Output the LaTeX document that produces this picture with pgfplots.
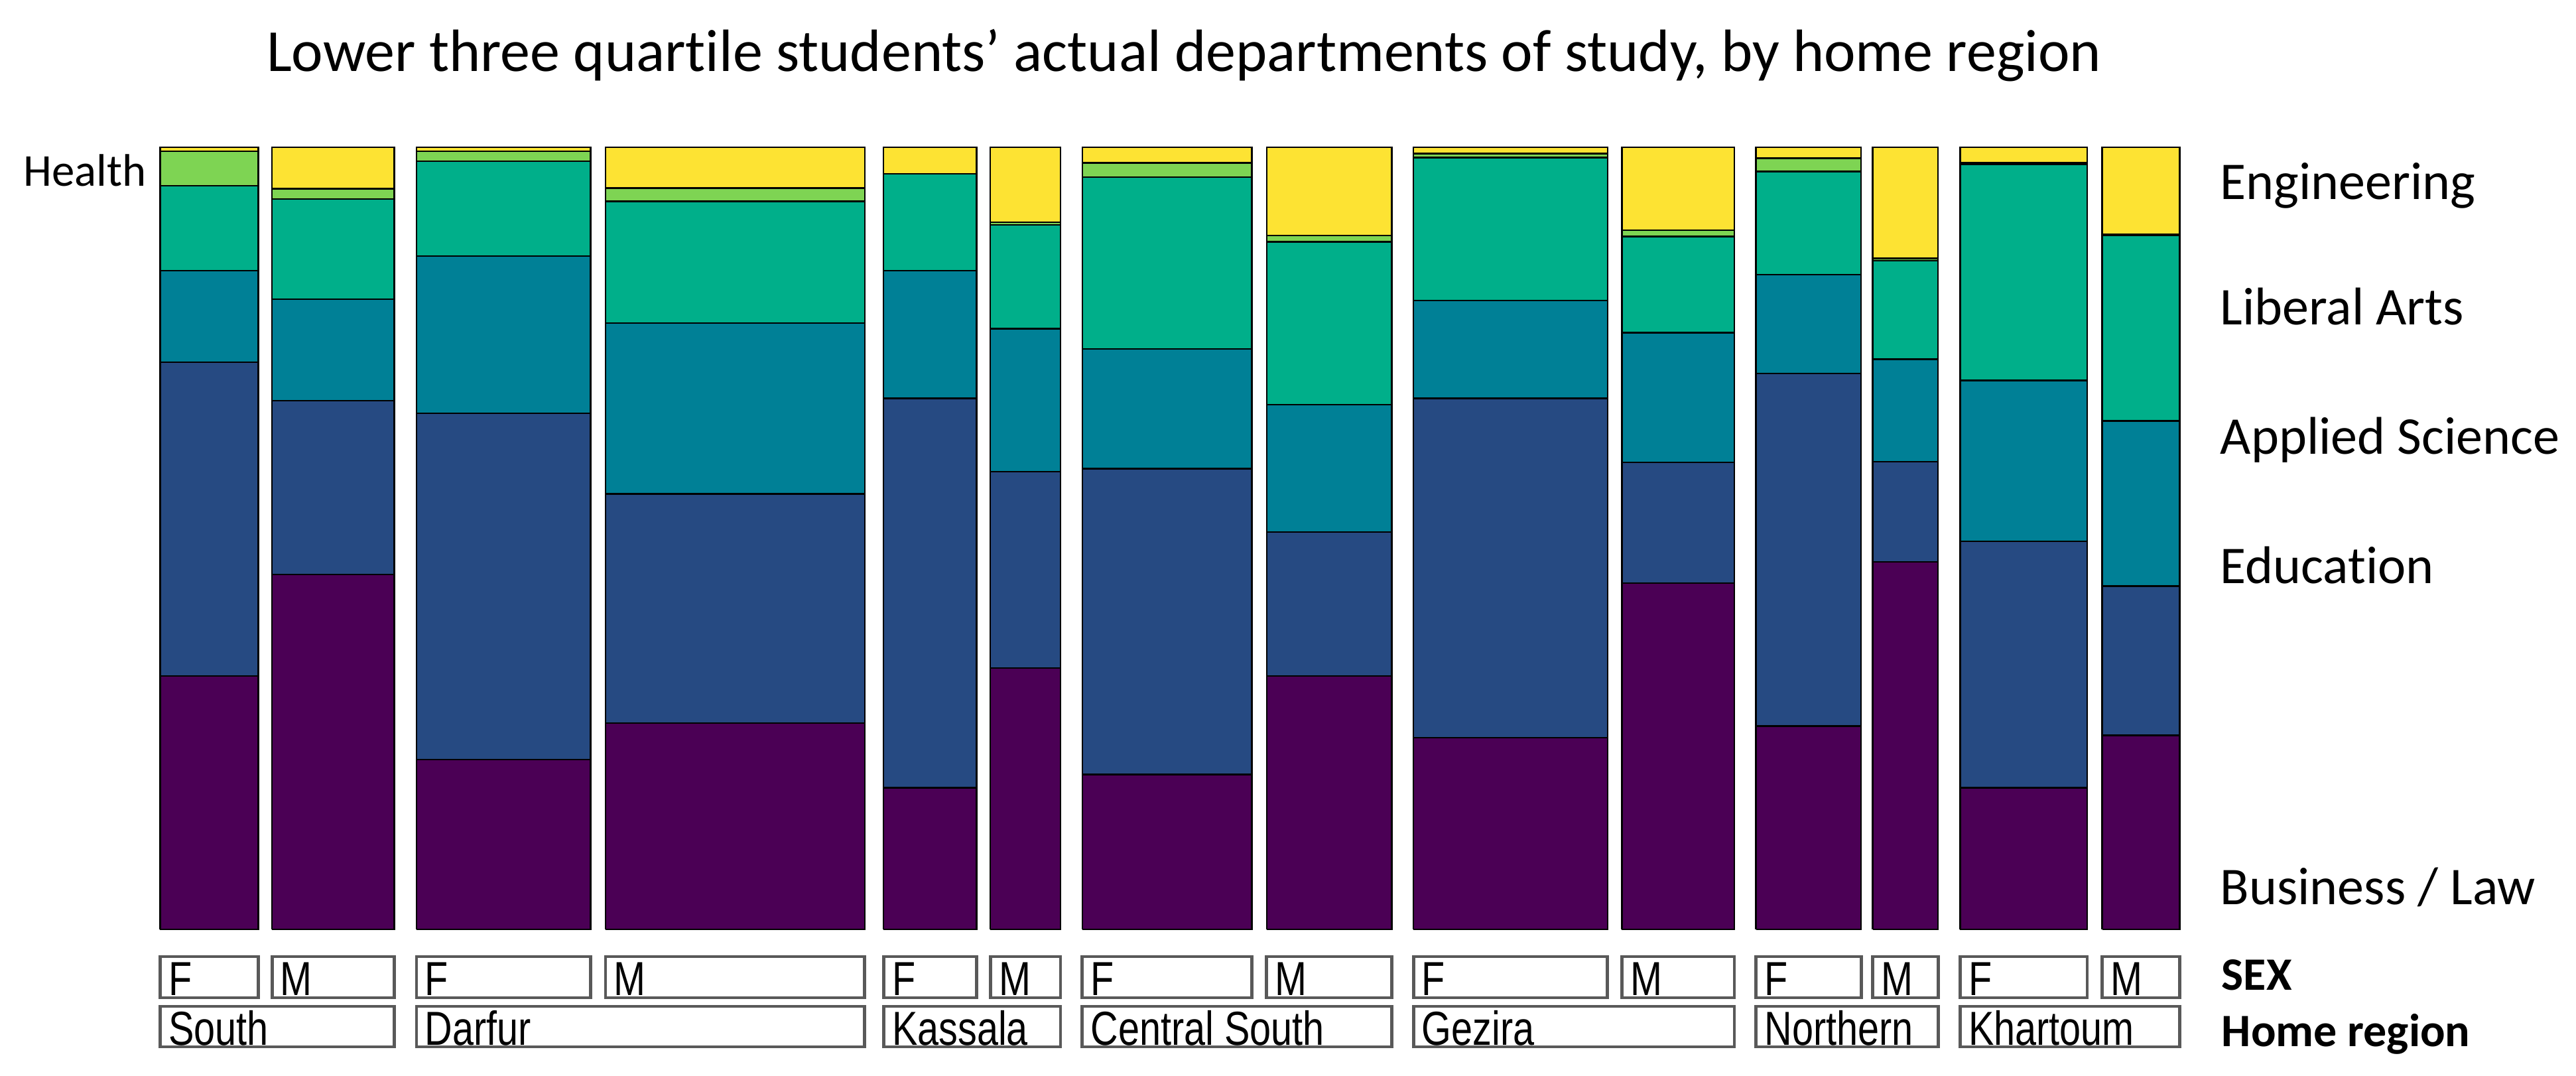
\documentclass[border=0pt]{standalone}
\usepackage{pgfplots}
\pgfplotsset{compat=1.18}
\usepackage{fontspec}
\setmainfont{Carlito}[Ligatures=NoCommon]
\newfontfamily\boxfont[FakeStretch=0.8]{Liberation Sans}
\definecolor{cB}{HTML}{4B0055}
\definecolor{cE}{HTML}{264A82}
\definecolor{cA}{HTML}{008096}
\definecolor{cL}{HTML}{00AF8A}
\definecolor{cH}{HTML}{7ED453}
\definecolor{cY}{HTML}{FDE333}
\tikzset{
  boxl/.style={draw=black!65, line width=1.2pt, fill=white},
  sx/.style={font=\boxfont\fontsize{18}{20}\selectfont, anchor=base west, inner sep=0pt},
  lab/.style={font=\fontsize{20}{24}\selectfont, anchor=base west, inner sep=0pt},
  blab/.style={font=\bfseries\fontsize{17.5}{21}\selectfont, anchor=base west, inner sep=0pt},
}
\begin{document}
\begin{tikzpicture}
\useasboundingbox (0,0) rectangle (971pt,405.25pt);
\begin{axis}[
  at={(0,0)}, anchor=south west,
  scale only axis, width=971pt, height=405.25pt,
  xmin=0, xmax=3884, ymin=-18.66, ymax=118.83,
  hide axis, clip=false,
  unbounded coords=jump,
  every axis plot/.append style={draw=black, line width=0.6pt, line join=miter},
]
% Business / Law
\addplot[fill=cB] coordinates {
(241.3,0) (389.4,0) (389.4,32.4) (241.3,32.4) (241.3,0) (nan,nan)
(410.1,0) (594.3,0) (594.3,45.4) (410.1,45.4) (410.1,0) (nan,nan)
(627.9,0) (890.5,0) (890.5,21.7) (627.9,21.7) (627.9,0) (nan,nan)
(912.9,0) (1303.8,0) (1303.8,26.4) (912.9,26.4) (912.9,0) (nan,nan)
(1332.2,0) (1472.5,0) (1472.5,18.1) (1332.2,18.1) (1332.2,0) (nan,nan)
(1493.2,0) (1599.0,0) (1599.0,33.4) (1493.2,33.4) (1493.2,0) (nan,nan)
(1631.7,0) (1887.4,0) (1887.4,19.8) (1631.7,19.8) (1631.7,0) (nan,nan)
(1909.8,0) (2098.4,0) (2098.4,32.4) (1909.8,32.4) (1909.8,0) (nan,nan)
(2131.1,0) (2423.8,0) (2423.8,24.5) (2131.1,24.5) (2131.1,0) (nan,nan)
(2445.3,0) (2614.9,0) (2614.9,44.3) (2445.3,44.3) (2445.3,0) (nan,nan)
(2647.6,0) (2806.1,0) (2806.1,26.0) (2647.6,26.0) (2647.6,0) (nan,nan)
(2823.5,0) (2922.1,0) (2922.1,47.0) (2823.5,47.0) (2823.5,0) (nan,nan)
(2955.4,0) (3147.0,0) (3147.0,18.1) (2955.4,18.1) (2955.4,0) (nan,nan)
(3169.5,0) (3286.6,0) (3286.6,24.8) (3169.5,24.8) (3169.5,0)
};
% Education
\addplot[fill=cE] coordinates {
(241.3,32.4) (389.4,32.4) (389.4,72.5) (241.3,72.5) (241.3,32.4) (nan,nan)
(410.1,45.4) (594.3,45.4) (594.3,67.6) (410.1,67.6) (410.1,45.4) (nan,nan)
(627.9,21.7) (890.5,21.7) (890.5,66.0) (627.9,66.0) (627.9,21.7) (nan,nan)
(912.9,26.4) (1303.8,26.4) (1303.8,55.7) (912.9,55.7) (912.9,26.4) (nan,nan)
(1332.2,18.1) (1472.5,18.1) (1472.5,67.9) (1332.2,67.9) (1332.2,18.1) (nan,nan)
(1493.2,33.4) (1599.0,33.4) (1599.0,58.5) (1493.2,58.5) (1493.2,33.4) (nan,nan)
(1631.7,19.8) (1887.4,19.8) (1887.4,58.9) (1631.7,58.9) (1631.7,19.8) (nan,nan)
(1909.8,32.4) (2098.4,32.4) (2098.4,50.8) (1909.8,50.8) (1909.8,32.4) (nan,nan)
(2131.1,24.5) (2423.8,24.5) (2423.8,67.9) (2131.1,67.9) (2131.1,24.5) (nan,nan)
(2445.3,44.3) (2614.9,44.3) (2614.9,59.7) (2445.3,59.7) (2445.3,44.3) (nan,nan)
(2647.6,26.0) (2806.1,26.0) (2806.1,71.1) (2647.6,71.1) (2647.6,26.0) (nan,nan)
(2823.5,47.0) (2922.1,47.0) (2922.1,59.8) (2823.5,59.8) (2823.5,47.0) (nan,nan)
(2955.4,18.1) (3147.0,18.1) (3147.0,49.6) (2955.4,49.6) (2955.4,18.1) (nan,nan)
(3169.5,24.8) (3286.6,24.8) (3286.6,43.9) (3169.5,43.9) (3169.5,24.8)
};
% Applied Science
\addplot[fill=cA] coordinates {
(241.3,72.5) (389.4,72.5) (389.4,84.2) (241.3,84.2) (241.3,72.5) (nan,nan)
(410.1,67.6) (594.3,67.6) (594.3,80.6) (410.1,80.6) (410.1,67.6) (nan,nan)
(627.9,66.0) (890.5,66.0) (890.5,86.1) (627.9,86.1) (627.9,66.0) (nan,nan)
(912.9,55.7) (1303.8,55.7) (1303.8,77.5) (912.9,77.5) (912.9,55.7) (nan,nan)
(1332.2,67.9) (1472.5,67.9) (1472.5,84.2) (1332.2,84.2) (1332.2,67.9) (nan,nan)
(1493.2,58.5) (1599.0,58.5) (1599.0,76.8) (1493.2,76.8) (1493.2,58.5) (nan,nan)
(1631.7,58.9) (1887.4,58.9) (1887.4,74.2) (1631.7,74.2) (1631.7,58.9) (nan,nan)
(1909.8,50.8) (2098.4,50.8) (2098.4,67.1) (1909.8,67.1) (1909.8,50.8) (nan,nan)
(2131.1,67.9) (2423.8,67.9) (2423.8,80.4) (2131.1,80.4) (2131.1,67.9) (nan,nan)
(2445.3,59.7) (2614.9,59.7) (2614.9,76.3) (2445.3,76.3) (2445.3,59.7) (nan,nan)
(2647.6,71.1) (2806.1,71.1) (2806.1,83.7) (2647.6,83.7) (2647.6,71.1) (nan,nan)
(2823.5,59.8) (2922.1,59.8) (2922.1,72.9) (2823.5,72.9) (2823.5,59.8) (nan,nan)
(2955.4,49.6) (3147.0,49.6) (3147.0,70.2) (2955.4,70.2) (2955.4,49.6) (nan,nan)
(3169.5,43.9) (3286.6,43.9) (3286.6,65.0) (3169.5,65.0) (3169.5,43.9)
};
% Liberal Arts
\addplot[fill=cL] coordinates {
(241.3,84.2) (389.4,84.2) (389.4,95.1) (241.3,95.1) (241.3,84.2) (nan,nan)
(410.1,80.6) (594.3,80.6) (594.3,93.4) (410.1,93.4) (410.1,80.6) (nan,nan)
(627.9,86.1) (890.5,86.1) (890.5,98.2) (627.9,98.2) (627.9,86.1) (nan,nan)
(912.9,77.5) (1303.8,77.5) (1303.8,93.1) (912.9,93.1) (912.9,77.5) (nan,nan)
(1332.2,84.2) (1472.5,84.2) (1472.5,96.6) (1332.2,96.6) (1332.2,84.2) (nan,nan)
(1493.2,76.8) (1599.0,76.8) (1599.0,90.1) (1493.2,90.1) (1493.2,76.8) (nan,nan)
(1631.7,74.2) (1887.4,74.2) (1887.4,96.2) (1631.7,96.2) (1631.7,74.2) (nan,nan)
(1909.8,67.1) (2098.4,67.1) (2098.4,87.9) (1909.8,87.9) (1909.8,67.1) (nan,nan)
(2131.1,80.4) (2423.8,80.4) (2423.8,98.7) (2131.1,98.7) (2131.1,80.4) (nan,nan)
(2445.3,76.3) (2614.9,76.3) (2614.9,88.6) (2445.3,88.6) (2445.3,76.3) (nan,nan)
(2647.6,83.7) (2806.1,83.7) (2806.1,96.9) (2647.6,96.9) (2647.6,83.7) (nan,nan)
(2823.5,72.9) (2922.1,72.9) (2922.1,85.5) (2823.5,85.5) (2823.5,72.9) (nan,nan)
(2955.4,70.2) (3147.0,70.2) (3147.0,97.8) (2955.4,97.8) (2955.4,70.2) (nan,nan)
(3169.5,65.0) (3286.6,65.0) (3286.6,88.7) (3169.5,88.7) (3169.5,65.0)
};
% Health
\addplot[fill=cH] coordinates {
(241.3,95.1) (389.4,95.1) (389.4,99.5) (241.3,99.5) (241.3,95.1) (nan,nan)
(410.1,93.4) (594.3,93.4) (594.3,94.7) (410.1,94.7) (410.1,93.4) (nan,nan)
(627.9,98.2) (890.5,98.2) (890.5,99.5) (627.9,99.5) (627.9,98.2) (nan,nan)
(912.9,93.1) (1303.8,93.1) (1303.8,94.8) (912.9,94.8) (912.9,93.1) (nan,nan)
(1493.2,90.1) (1599.0,90.1) (1599.0,90.4) (1493.2,90.4) (1493.2,90.1) (nan,nan)
(1631.7,96.2) (1887.4,96.2) (1887.4,98.0) (1631.7,98.0) (1631.7,96.2) (nan,nan)
(1909.8,87.9) (2098.4,87.9) (2098.4,88.7) (1909.8,88.7) (1909.8,87.9) (nan,nan)
(2131.1,98.7) (2423.8,98.7) (2423.8,99.2) (2131.1,99.2) (2131.1,98.7) (nan,nan)
(2445.3,88.6) (2614.9,88.6) (2614.9,89.4) (2445.3,89.4) (2445.3,88.6) (nan,nan)
(2647.6,96.9) (2806.1,96.9) (2806.1,98.6) (2647.6,98.6) (2647.6,96.9) (nan,nan)
(2823.5,85.5) (2922.1,85.5) (2922.1,85.8) (2823.5,85.8) (2823.5,85.5) (nan,nan)
(2955.4,97.8) (3147.0,97.8) (3147.0,98.0) (2955.4,98.0) (2955.4,97.8) (nan,nan)
(3169.5,88.7) (3286.6,88.7) (3286.6,88.9) (3169.5,88.9) (3169.5,88.7)
};
% Engineering
\addplot[fill=cY] coordinates {
(241.3,99.5) (389.4,99.5) (389.4,100) (241.3,100) (241.3,99.5) (nan,nan)
(410.1,94.7) (594.3,94.7) (594.3,100) (410.1,100) (410.1,94.7) (nan,nan)
(627.9,99.5) (890.5,99.5) (890.5,100) (627.9,100) (627.9,99.5) (nan,nan)
(912.9,94.8) (1303.8,94.8) (1303.8,100) (912.9,100) (912.9,94.8) (nan,nan)
(1332.2,96.6) (1472.5,96.6) (1472.5,100) (1332.2,100) (1332.2,96.6) (nan,nan)
(1493.2,90.4) (1599.0,90.4) (1599.0,100) (1493.2,100) (1493.2,90.4) (nan,nan)
(1631.7,98.0) (1887.4,98.0) (1887.4,100) (1631.7,100) (1631.7,98.0) (nan,nan)
(1909.8,88.7) (2098.4,88.7) (2098.4,100) (1909.8,100) (1909.8,88.7) (nan,nan)
(2131.1,99.2) (2423.8,99.2) (2423.8,100) (2131.1,100) (2131.1,99.2) (nan,nan)
(2445.3,89.4) (2614.9,89.4) (2614.9,100) (2445.3,100) (2445.3,89.4) (nan,nan)
(2647.6,98.6) (2806.1,98.6) (2806.1,100) (2647.6,100) (2647.6,98.6) (nan,nan)
(2823.5,85.8) (2922.1,85.8) (2922.1,100) (2823.5,100) (2823.5,85.8) (nan,nan)
(2955.4,98.0) (3147.0,98.0) (3147.0,100) (2955.4,100) (2955.4,98.0) (nan,nan)
(3169.5,88.9) (3286.6,88.9) (3286.6,100) (3169.5,100) (3169.5,88.9)
};
% SEX boxes
\foreach \a/\b/\s in {241.3/389.4/F,410.1/594.3/M,627.9/890.5/F,912.9/1303.8/M,1332.2/1472.5/F,1493.2/1599.0/M,1631.7/1887.4/F,1909.8/2098.4/M,2131.1/2423.8/F,2445.3/2614.9/M,2647.6/2806.1/F,2823.5/2922.1/M,2955.4/3147.0/F,3169.5/3286.6/M}{
  \edef\tmp{\noexpand\draw[boxl] (axis cs:\a,-3.48) rectangle (axis cs:\b,-8.74);
    \noexpand\node[sx] at (axis cs:\a+12,-8.40) {\s};}\tmp
}
% region boxes
\foreach \a/\b/\s in {241.3/594.3/South,627.9/1303.8/Darfur,1332.2/1599.0/Kassala,1631.7/2098.4/Central South,2131.1/2614.9/Gezira,2647.6/2922.1/Northern,2955.4/3286.6/Khartoum}{
  \edef\tmp{\noexpand\draw[boxl] (axis cs:\a,-9.84) rectangle (axis cs:\b,-15.01);
    \noexpand\node[sx] at (axis cs:\a+12,-14.84) {\s};}\tmp
}
\node[font=\fontsize{22.5}{27}\selectfont, anchor=base, inner sep=0pt] at (axis cs:1785,109.75) {Lower three quartile students’ actual departments of study, by home region};
\node[font=\fontsize{17.2}{20}\selectfont, anchor=base east, inner sep=0pt] at (axis cs:221,95.08) {Health};
\node[lab] at (axis cs:3347,93.38) {Engineering};
\node[lab] at (axis cs:3347,77.30) {Liberal Arts};
\node[lab] at (axis cs:3347,60.75) {Applied Science};
\node[lab] at (axis cs:3347,44.21) {Education};
\node[lab] at (axis cs:3347,3.22) {Business / Law};
\node[blab] at (axis cs:3349,-7.80) {SEX};
\node[blab] at (axis cs:3349,-15.01) {Home region};
\end{axis}
\end{tikzpicture}
\end{document}
